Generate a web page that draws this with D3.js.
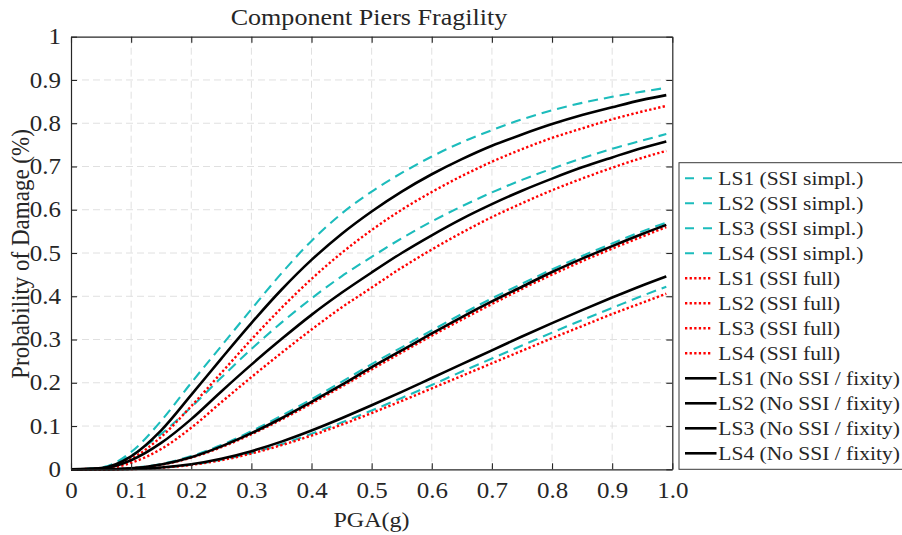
<!DOCTYPE html>
<html><head><meta charset="utf-8">
<script src="https://cdn.jsdelivr.net/npm/d3@7"></script>
<style>
body{margin:0;background:#fff}
svg{display:block}
text{font-family:"Liberation Serif","Times New Roman",serif;fill:#262626}
</style>
</head><body>
<svg id="chart" width="902" height="535"></svg>
<script>
// ---- data ----
const pga = [0,0.05,0.1,0.15,0.2,0.25,0.3,0.35,0.4,0.45,0.5,0.55,0.6,0.65,0.7,0.75,0.8,0.85,0.9,0.95,0.99];

const ls1Simpl = [0,0.004,0.04,0.112,0.2,0.285,0.37,0.453,0.528,0.591,0.642,0.685,0.723,0.756,0.784,0.809,0.83,0.847,0.861,0.873,0.882];
const ls2Simpl = [0,0.004,0.032,0.082,0.144,0.212,0.278,0.339,0.395,0.446,0.491,0.534,0.573,0.608,0.64,0.669,0.695,0.719,0.741,0.76,0.775];
const ls3Simpl = [0,0.0001,0.0029,0.0125,0.0305,0.056,0.088,0.124,0.162,0.202,0.243,0.282,0.321,0.359,0.395,0.429,0.462,0.493,0.522,0.55,0.57];
const ls4Simpl = [0,0,0.0006,0.0036,0.0105,0.022,0.038,0.058,0.082,0.108,0.136,0.165,0.195,0.226,0.256,0.286,0.316,0.345,0.373,0.401,0.422];

const ls1Full = [0,0.002,0.024,0.075,0.146,0.223,0.3,0.373,0.44,0.5,0.553,0.6,0.641,0.678,0.711,0.74,0.766,0.788,0.809,0.827,0.84];
const ls2Full = [0,0.001,0.015,0.047,0.096,0.155,0.213,0.269,0.323,0.374,0.42,0.466,0.508,0.547,0.583,0.615,0.645,0.672,0.697,0.72,0.736];
const ls3Full = [0,0.0001,0.0023,0.0107,0.027,0.051,0.081,0.115,0.152,0.191,0.231,0.27,0.309,0.346,0.382,0.417,0.45,0.481,0.51,0.538,0.56];
const ls4Full = [0,0,0.0006,0.0035,0.0102,0.021,0.0365,0.0557,0.078,0.103,0.13,0.158,0.187,0.216,0.245,0.274,0.303,0.331,0.359,0.385,0.406];

const ls1Fix = [0,0.003,0.03,0.09,0.172,0.256,0.338,0.415,0.484,0.544,0.596,0.642,0.682,0.717,0.748,0.774,0.798,0.819,0.837,0.854,0.865];
const ls2Fix = [0,0.002,0.021,0.061,0.116,0.18,0.242,0.301,0.357,0.408,0.455,0.5,0.541,0.579,0.613,0.644,0.672,0.698,0.721,0.743,0.758];
const ls3Fix = [0,0.0001,0.0025,0.0113,0.028,0.053,0.0835,0.118,0.156,0.195,0.236,0.275,0.314,0.352,0.388,0.422,0.456,0.487,0.516,0.544,0.565];
const ls4Fix = [0,0,0.0007,0.004,0.0117,0.0245,0.042,0.064,0.0897,0.118,0.148,0.179,0.211,0.243,0.275,0.307,0.338,0.368,0.397,0.425,0.446];

const seriesNames = [
  "LS1 (SSI simpl.)","LS2 (SSI simpl.)","LS3 (SSI simpl.)","LS4 (SSI simpl.)",
  "LS1 (SSI full)","LS2 (SSI full)","LS3 (SSI full)","LS4 (SSI full)",
  "LS1 (No SSI / fixity)","LS2 (No SSI / fixity)","LS3 (No SSI / fixity)","LS4 (No SSI / fixity)"
];
const seriesValues = [ls1Simpl,ls2Simpl,ls3Simpl,ls4Simpl,ls1Full,ls2Full,ls3Full,ls4Full,ls1Fix,ls2Fix,ls3Fix,ls4Fix];
const seriesGroup = ["simpl","simpl","simpl","simpl","full","full","full","full","fix","fix","fix","fix"];

const xTicks = [0,0.1,0.2,0.3,0.4,0.5,0.6,0.7,0.8,0.9,1.0];
const xTickLabels = ["0","0.1","0.2","0.3","0.4","0.5","0.6","0.7","0.8","0.9","1.0"];
const yTicks = [0,0.1,0.2,0.3,0.4,0.5,0.6,0.7,0.8,0.9,1];
const yTickLabels = ["0","0.1","0.2","0.3","0.4","0.5","0.6","0.7","0.8","0.9","1"];

const titleText = "Component Piers Fragility";
const xLabelText = "PGA(g)";
const yLabelText = "Probability of Damage (%)";

// ---- styles ----
const styles = {
  simpl:{stroke:"#1cbcbc", width:2.1, dash:"10,6", legendDash:"9,9"},
  full:{stroke:"#ff0000", width:2.4, dash:"2.3,2.3", legendDash:"2.3,2.3"},
  fix:{stroke:"#000000", width:2.6, dash:null, legendDash:null}
};
const SX = 1.12; // horizontal stretch of the text in the reference

const svg = d3.select("#chart");
const L = 71, R = 672.3, T = 36.7, B = 469.3;
const x = d3.scaleLinear().domain([0,1]).range([L,R]);
const y = d3.scaleLinear().domain([0,1]).range([B,T]);
const axisColor = "#262626";

// grid
const grid = svg.append("g");
grid.selectAll("line.gx").data(xTicks.filter(d=>d>0&&d<1)).join("line")
  .attr("x1",d=>x(d)).attr("x2",d=>x(d)).attr("y1",T).attr("y2",B)
  .attr("stroke","#e0e0e0").attr("stroke-width",1).attr("stroke-dasharray","7,4");
grid.selectAll("line.gy").data(yTicks.filter(d=>d>0&&d<1)).join("line")
  .attr("y1",d=>y(d)).attr("y2",d=>y(d)).attr("x1",L).attr("x2",R)
  .attr("stroke","#e0e0e0").attr("stroke-width",1).attr("stroke-dasharray","7,4");

// curves
const line = d3.line().x((d,i)=>x(pga[i])).y(d=>y(d)).curve(d3.curveMonotoneX);
const curves = svg.append("g").attr("fill","none");
seriesValues.forEach((vals,k)=>{
  const st = styles[seriesGroup[k]];
  curves.append("path").attr("d",line(vals))
    .attr("stroke",st.stroke).attr("stroke-width",st.width)
    .attr("stroke-dasharray",st.dash).attr("stroke-linejoin","round");
});

// axes
function styleAxis(g){
  g.select(".domain").attr("stroke",axisColor).attr("stroke-width",1.2);
  g.selectAll(".tick line").attr("stroke",axisColor).attr("stroke-width",1.1);
}
const fs = 22.3;
const xAxis = svg.append("g").attr("transform",`translate(0,${B})`)
  .call(d3.axisBottom(x).tickValues(xTicks).tickFormat((d,i)=>xTickLabels[i]).tickSizeInner(-6).tickSizeOuter(0).tickPadding(13.2));
styleAxis(xAxis);
xAxis.selectAll("text").attr("font-size",fs).attr("font-family",null).attr("fill",axisColor)
  .attr("transform",`scale(${SX},1)`);

const yAxis = svg.append("g").attr("transform",`translate(${L},0)`)
  .call(d3.axisLeft(y).tickValues(yTicks).tickFormat((d,i)=>yTickLabels[i]).tickSizeInner(-6).tickSizeOuter(0).tickPadding(10));
styleAxis(yAxis);
yAxis.selectAll("text").attr("font-size",fs).attr("font-family",null).attr("fill",axisColor)
  .attr("x",-10/SX).attr("transform",`scale(${SX},1)`);

const xTop = svg.append("g").attr("transform",`translate(0,${T})`)
  .call(d3.axisTop(x).tickValues(xTicks).tickFormat("").tickSizeInner(-6).tickSizeOuter(0));
styleAxis(xTop);
const yRight = svg.append("g").attr("transform",`translate(${R},0)`)
  .call(d3.axisRight(y).tickValues(yTicks).tickFormat("").tickSizeInner(-6).tickSizeOuter(0));
styleAxis(yRight);

// title and labels
svg.append("text").attr("transform",`translate(369,25) scale(${SX},1)`)
  .attr("text-anchor","middle").attr("font-size",23.3).attr("fill","#000").text(titleText);
svg.append("text").attr("transform",`translate(371.5,527) scale(${SX},1)`)
  .attr("text-anchor","middle").attr("font-size",21.5).attr("fill",axisColor).text(xLabelText);
svg.append("text").attr("transform",`translate(29,254) scale(${SX},1) rotate(-90)`)
  .attr("text-anchor","middle").attr("font-size",23).attr("fill",axisColor).text(yLabelText);

// legend
const lg = svg.append("g");
lg.append("rect").attr("x",679).attr("y",162.7).attr("width",240).attr("height",306.6)
  .attr("fill","#fff").attr("stroke","#3a3a3a").attr("stroke-width",1);
seriesNames.forEach((name,i)=>{
  const st = styles[seriesGroup[i]];
  const cy = 178.3 + 25*i;
  lg.append("line").attr("x1",685).attr("x2",st.dash?712.3:716.5).attr("y1",cy).attr("y2",cy)
    .attr("stroke",st.stroke).attr("stroke-width",st.width).attr("stroke-dasharray",st.legendDash);
  lg.append("text").attr("transform",`translate(718.3,${cy+6.4}) scale(${SX},1)`)
    .attr("font-size",19.2).attr("fill","#000").text(name);
});
</script>
</body></html>
